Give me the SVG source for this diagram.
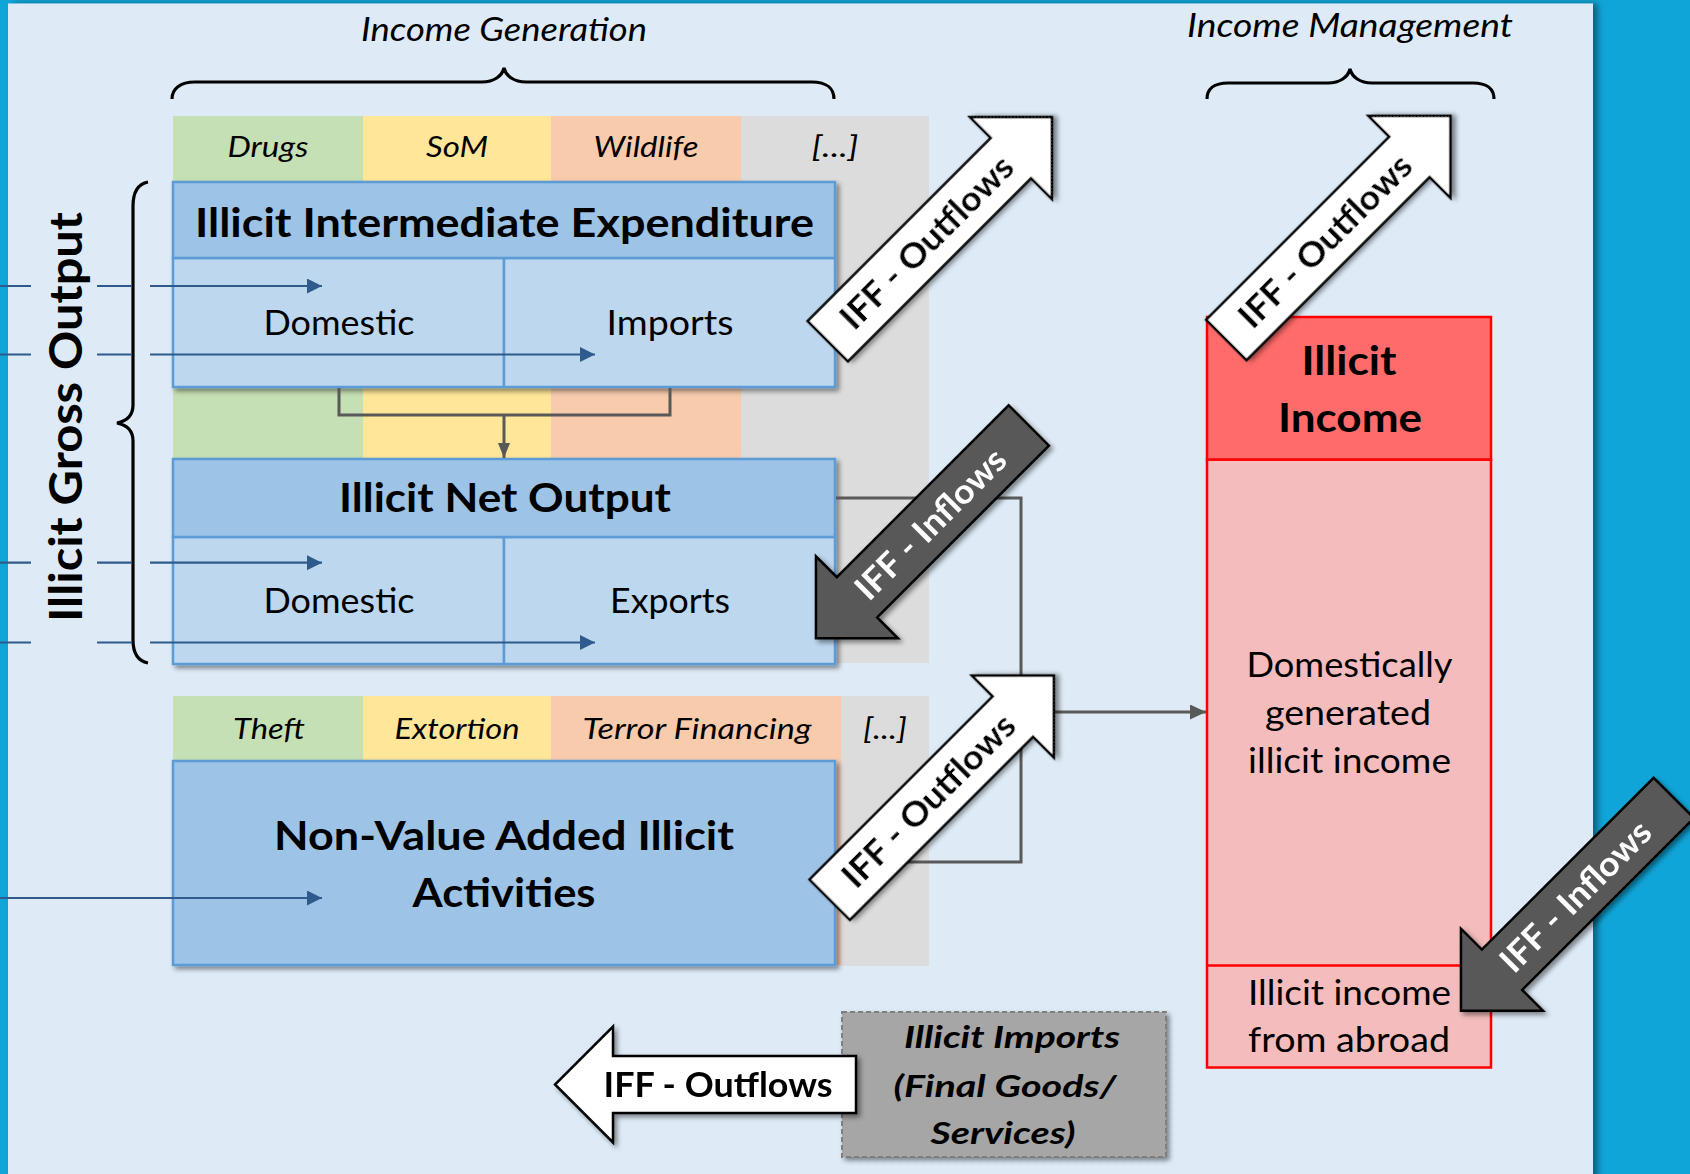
<svg xmlns="http://www.w3.org/2000/svg" width="1690" height="1174" viewBox="0 0 1690 1174">
<defs>
<style>
text{font-family:Lato,"Open Sans","DejaVu Sans",sans-serif;fill:#000}
.it{font-style:italic;font-size:29px;text-anchor:middle}
.hd{font-style:italic;font-size:32px;text-anchor:middle}
.bt{font-weight:bold;font-size:40px;text-anchor:middle}
.rg{font-size:34px;text-anchor:middle}
.bi{font-weight:bold;font-style:italic;font-size:31px;text-anchor:middle}
.ar{font-weight:bold;font-size:34px;text-anchor:middle}
.hdr{fill:#9dc3e6;stroke:#5b9bd5;stroke-width:2.5}
.cell{fill:#bdd7ee;stroke:#5b9bd5;stroke-width:2.5}
.blue{stroke:#2f5b8c;stroke-width:2.2;fill:none}
.gray{stroke:#595959;stroke-width:3;fill:none}
.brace{stroke:#000;stroke-width:3.2;fill:none}
.wa{fill:#fff;stroke:#000;stroke-width:2.5;stroke-linejoin:miter}
.da{fill:#595959;stroke:#000;stroke-width:2.5;stroke-linejoin:miter}
</style>
<filter id="sh" x="-20%" y="-20%" width="150%" height="150%">
<feDropShadow dx="3" dy="3" stdDeviation="2.5" flood-color="#000" flood-opacity="0.45"/>
</filter>
<filter id="psh" x="-5%" y="-5%" width="110%" height="110%">
<feDropShadow dx="5" dy="0" stdDeviation="3" flood-color="#000" flood-opacity="0.4"/>
</filter>
<marker id="mb" markerUnits="userSpaceOnUse" markerWidth="15" markerHeight="15" refX="15" refY="7.5" orient="auto" viewBox="0 0 15 15">
<path d="M0,0 L15,7.5 L0,15 Z" fill="#2f5b8c"/>
</marker>
<marker id="mg" markerUnits="userSpaceOnUse" markerWidth="16" markerHeight="15" refX="16" refY="7.5" orient="auto" viewBox="0 0 16 15">
<path d="M0,0 L16,7.5 L0,15 Z" fill="#595959"/>
</marker>
<marker id="mg2" markerUnits="userSpaceOnUse" markerWidth="15" markerHeight="12" refX="15" refY="6" orient="auto" viewBox="0 0 15 12">
<path d="M0,0 L15,6 L0,12 Z" fill="#595959"/>
</marker>
</defs>

<rect x="0" y="0" width="1690" height="1174" fill="#10a5d8"/>
<rect x="8" y="3.5" width="1585" height="1190" fill="#deebf7" filter="url(#psh)"/>

<g id="headings">
<text class="hd" x="504" y="41" textLength="286" lengthAdjust="spacingAndGlyphs">Income Generation</text>
<path class="brace" d="M172,99 C172,89 180,82 195,82 L482,82 C494,82 502,76 504,68 C506,76 514,82 526,82 L812,82 C827,82 834,89 834,99"/>
<text class="hd" x="1350" y="37" textLength="326" lengthAdjust="spacingAndGlyphs">Income Management</text>
<path class="brace" d="M1207,99 C1207,89 1214,83 1228,83 L1328,83 C1340,83 1348,77 1350,69 C1352,77 1360,83 1372,83 L1473,83 C1487,83 1494,89 1494,99"/>
</g>

<g id="bands">
<rect x="173" y="116" width="190" height="547" fill="#c5e0b4"/>
<rect x="363" y="116" width="188" height="547" fill="#ffe699"/>
<rect x="551" y="116" width="190" height="547" fill="#f8cbad"/>
<rect x="741" y="116" width="188" height="547" fill="#dcdcdc"/>
<text class="it" x="268" y="157" textLength="81" lengthAdjust="spacingAndGlyphs">Drugs</text>
<text class="it" x="457" y="157" textLength="62" lengthAdjust="spacingAndGlyphs">SoM</text>
<text class="it" x="646" y="157" textLength="105" lengthAdjust="spacingAndGlyphs">Wildlife</text>
<text class="it" x="835" y="157" textLength="47" lengthAdjust="spacingAndGlyphs">[...]</text>
<rect x="173" y="696" width="190" height="269" fill="#c5e0b4"/>
<rect x="363" y="696" width="188" height="269" fill="#ffe699"/>
<rect x="551" y="696" width="290" height="269" fill="#f8cbad"/>
<rect x="841" y="696" width="88" height="270" fill="#dcdcdc"/>
<text class="it" x="269" y="739" textLength="72" lengthAdjust="spacingAndGlyphs">Theft</text>
<text class="it" x="457" y="739" textLength="125" lengthAdjust="spacingAndGlyphs">Extortion</text>
<text class="it" x="697" y="739" textLength="229" lengthAdjust="spacingAndGlyphs">Terror Financing</text>
<text class="it" x="885" y="739" textLength="44" lengthAdjust="spacingAndGlyphs">[...]</text>
</g>

<g id="gross-output">
<text class="bt" font-size="46" transform="translate(82,417) rotate(-90)" x="0" y="0" textLength="410" lengthAdjust="spacingAndGlyphs" style="font-size:46px">Illicit Gross Output</text>
<path class="brace" d="M148,182 C138,184 133,192 133,206 L133,405 C133,415 127,421 117,423 C127,425 133,431 133,441 L133,640 C133,654 138,661 148,663"/>
</g>

<g id="box-intermediate" filter="url(#sh)">
<rect class="cell" x="173" y="258" width="331" height="129"/>
<rect class="cell" x="504" y="258" width="331" height="129"/>
<rect class="hdr" x="173" y="182" width="662" height="76"/>
</g>
<g id="box-intermediate-text">
<text class="bt" x="504.5" y="237" textLength="619" lengthAdjust="spacingAndGlyphs">Illicit Intermediate Expenditure</text>
<text class="rg" x="339" y="335" textLength="151" lengthAdjust="spacingAndGlyphs">Domestic</text>
<text class="rg" x="670" y="335" textLength="127" lengthAdjust="spacingAndGlyphs">Imports</text>
</g>

<g id="box-net" filter="url(#sh)">
<rect class="cell" x="173" y="537" width="331" height="127"/>
<rect class="cell" x="504" y="537" width="331" height="127"/>
<rect class="hdr" x="173" y="459" width="662" height="78"/>
</g>
<g id="box-net-text">
<text class="bt" x="505" y="512" textLength="332" lengthAdjust="spacingAndGlyphs">Illicit Net Output</text>
<text class="rg" x="339" y="613" textLength="151" lengthAdjust="spacingAndGlyphs">Domestic</text>
<text class="rg" x="670" y="613" textLength="120" lengthAdjust="spacingAndGlyphs">Exports</text>
</g>

<g id="box-nonvalue">
<rect class="hdr" x="173" y="761" width="662" height="204" filter="url(#sh)"/>
<text class="bt" x="504" y="850" textLength="460" lengthAdjust="spacingAndGlyphs">Non-Value Added Illicit</text>
<text class="bt" x="504" y="907" textLength="183" lengthAdjust="spacingAndGlyphs">Activities</text>
</g>

<g id="illicit-income">
<rect x="1207" y="459.5" width="284" height="608" fill="#f4bcbc" stroke="#ff0000" stroke-width="2.5"/>
<rect x="1207" y="317" width="284" height="142.5" fill="#ff6b6b" stroke="#ff0000" stroke-width="2.5"/>
<line x1="1207" y1="965.5" x2="1491" y2="965.5" stroke="#ff0000" stroke-width="2.5"/>
<text class="bt" x="1349" y="375" textLength="95" lengthAdjust="spacingAndGlyphs">Illicit</text>
<text class="bt" x="1350" y="431.5" textLength="144" lengthAdjust="spacingAndGlyphs">Income</text>
<text class="rg" x="1349.5" y="677" textLength="206" lengthAdjust="spacingAndGlyphs">Domestically</text>
<text class="rg" x="1348" y="725" textLength="166" lengthAdjust="spacingAndGlyphs">generated</text>
<text class="rg" x="1349.5" y="773" textLength="203" lengthAdjust="spacingAndGlyphs">illicit income</text>
<text class="rg" x="1349.5" y="1005" textLength="203" lengthAdjust="spacingAndGlyphs">Illicit income</text>
<text class="rg" x="1349" y="1052" textLength="202" lengthAdjust="spacingAndGlyphs">from abroad</text>
</g>

<g id="illicit-imports">
<rect x="842" y="1012" width="324" height="145" fill="#a6a6a6" stroke="#7f7f7f" stroke-width="2" stroke-dasharray="5,3" filter="url(#sh)"/>
<text class="bi" x="1012" y="1048" textLength="216" lengthAdjust="spacingAndGlyphs">Illicit Imports</text>
<text class="bi" x="1005" y="1097" textLength="223" lengthAdjust="spacingAndGlyphs">(Final Goods/</text>
<text class="bi" x="1003" y="1144" textLength="145" lengthAdjust="spacingAndGlyphs">Services)</text>
</g>

<g id="connectors">
<path class="blue" d="M0,286 H31 M97,286 H132"/>
<path class="blue" d="M150,286 H322" marker-end="url(#mb)"/>
<path class="blue" d="M0,354.5 H31 M97,354.5 H132"/>
<path class="blue" d="M150,354.5 H595" marker-end="url(#mb)"/>
<path class="blue" d="M0,562.7 H31 M97,562.7 H132"/>
<path class="blue" d="M150,562.7 H322" marker-end="url(#mb)"/>
<path class="blue" d="M0,642.5 H31 M97,642.5 H132"/>
<path class="blue" d="M150,642.5 H595" marker-end="url(#mb)"/>
<path class="blue" d="M0,898 H322" marker-end="url(#mb)"/>
<path class="gray" d="M339,388 V415 H670 V388"/>
<path class="gray" d="M504,415 V458" marker-end="url(#mg2)"/>
<path class="gray" d="M836,498 H1021 V862 H836"/>
<path class="gray" d="M1021,712 H1206" marker-end="url(#mg)"/>
</g>

<g id="arrow-out-1" filter="url(#sh)" transform="translate(827.8,341.2) rotate(-45)">
<path class="wa" d="M0,-28.5 L259,-28.5 L259,-58 L317,0 L259,58 L259,28.5 L0,28.5 Z"/>
<text class="ar" x="140" y="12" textLength="229" lengthAdjust="spacingAndGlyphs">IFF - Outflows</text>
</g>
<g id="arrow-out-2" filter="url(#sh)" transform="translate(1226.3,340) rotate(-45)">
<path class="wa" d="M0,-28.5 L259,-28.5 L259,-58 L317,0 L259,58 L259,28.5 L0,28.5 Z"/>
<text class="ar" x="140" y="12" textLength="229" lengthAdjust="spacingAndGlyphs">IFF - Outflows</text>
</g>
<g id="arrow-out-3" filter="url(#sh)" transform="translate(829.7,899.7) rotate(-45)">
<path class="wa" d="M0,-28.5 L259,-28.5 L259,-58 L317,0 L259,58 L259,28.5 L0,28.5 Z"/>
<text class="ar" x="140" y="12" textLength="229" lengthAdjust="spacingAndGlyphs">IFF - Outflows</text>
</g>
<g id="arrow-in-1" filter="url(#sh)">
<path class="da" transform="translate(1028.8,425.5) rotate(135)" d="M0,-28.5 L243,-28.5 L243,-58 L301,0 L243,58 L243,28.5 L0,28.5 Z"/>
<text class="ar" transform="translate(930.5,523.8) rotate(-45)" x="0" y="12" textLength="198" lengthAdjust="spacingAndGlyphs" style="fill:#fff">IFF - Inflows</text>
</g>
<g id="arrow-in-2" filter="url(#sh)">
<path class="da" transform="translate(1673.8,797.9) rotate(135)" d="M0,-28.5 L243,-28.5 L243,-58 L301,0 L243,58 L243,28.5 L0,28.5 Z"/>
<text class="ar" transform="translate(1575.5,896.2) rotate(-45)" x="0" y="12" textLength="198" lengthAdjust="spacingAndGlyphs" style="fill:#fff">IFF - Inflows</text>
</g>
<g id="arrow-out-4" filter="url(#sh)">
<path class="wa" transform="translate(856,1084.5) rotate(180)" d="M0,-28.5 L243,-28.5 L243,-58 L301,0 L243,58 L243,28.5 L0,28.5 Z"/>
<text class="ar" x="718" y="1097" textLength="229" lengthAdjust="spacingAndGlyphs">IFF - Outflows</text>
</g>
</svg>
